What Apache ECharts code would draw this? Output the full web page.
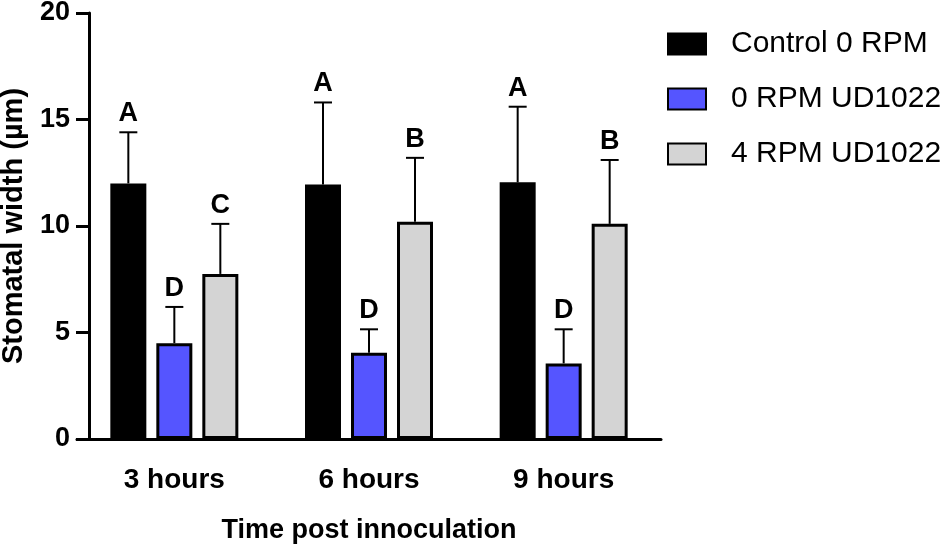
<!DOCTYPE html>
<html>
<head>
<meta charset="utf-8">
<script src="https://cdn.jsdelivr.net/npm/echarts@6/dist/echarts.min.js"></script>
<style>
  html, body { margin: 0; padding: 0; background: #fff; }
  #main { width: 943px; height: 548px; }
</style>
</head>
<body>
<div id="main"></div>
<script>
// data
var categories = ['3 hours', '6 hours', '9 hours'];
var seriesNames = ['Control 0 RPM', '0 RPM UD1022', '4 RPM UD1022'];
var controlMean = [12.0, 11.95, 12.05];
var controlTop = [14.4, 15.8, 15.6];
var rpm0Mean = [4.5, 4.05, 3.55];
var rpm0Top = [6.2, 5.15, 5.15];
var rpm4Mean = [7.75, 10.2, 10.1];
var rpm4Top = [10.1, 13.2, 13.1];
var controlLetters = ['A', 'A', 'A'];
var rpm0Letters = ['D', 'D', 'D'];
var rpm4Letters = ['C', 'B', 'B'];
var yTicks = [0, 5, 10, 15, 20];

var FONT = 'Liberation Sans';
var BAR_W = 36;
var BAR_GAP = 10;

var myChart = echarts.init(document.getElementById('main'));

function barSeries(name, color, values) {
  return {
    name: name,
    type: 'bar',
    barWidth: BAR_W,
    barGap: (BAR_GAP / BAR_W * 100) + '%',
    itemStyle: { color: color, borderColor: '#000', borderWidth: 3 },
    data: values
  };
}

// upper whisker + significance letter
function errorSeries(idx, means, tops, letters) {
  var offset = (BAR_W + BAR_GAP) * (idx - 1);
  return {
    type: 'custom',
    z: 5,
    encode: { x: 0, y: 2 },
    data: categories.map(function (c, i) { return [i, means[i], tops[i]]; }),
    renderItem: function (params, api) {
      var base = api.coord([api.value(0), api.value(1)]);
      var top = api.coord([api.value(0), api.value(2)]);
      var x = base[0] + offset;
      var cap = 9;
      return {
        type: 'group',
        children: [
          { type: 'line', shape: { x1: x, y1: base[1], x2: x, y2: top[1] },
            style: { stroke: '#000', lineWidth: 2 } },
          { type: 'line', shape: { x1: x - cap, y1: top[1], x2: x + cap, y2: top[1] },
            style: { stroke: '#000', lineWidth: 2 } },
          { type: 'text', x: x, y: top[1] - 5,
            style: { text: letters[params.dataIndex], fill: '#000', font: 'bold 27px "' + FONT + '"',
                     align: 'center', verticalAlign: 'bottom' } }
        ]
      };
    }
  };
}

myChart.setOption({
  animation: false,
  backgroundColor: '#fff',
  textStyle: { fontFamily: FONT },
  grid: { left: 77, right: 282, top: 13, bottom: 109, outerBoundsMode: 'none', containLabel: false },
  legend: {
    data: seriesNames,
    orient: 'vertical',
    left: 667,
    top: 29,
    padding: 0,
    itemWidth: 38,
    itemHeight: 21,
    itemGap: 25,
    icon: 'rect',
    textStyle: { fontFamily: FONT, fontSize: 30, color: '#000', padding: [0, 0, 0, 20], lineHeight: 30 }
  },
  xAxis: {
    type: 'category',
    data: categories,
    name: 'Time post innoculation',
    nameLocation: 'middle',
    nameGap: 78,
    nameTextStyle: { fontFamily: FONT, fontSize: 27, fontWeight: 'bold', color: '#000' },
    axisLine: { lineStyle: { color: '#000', width: 3 } },
    axisTick: { alignWithLabel: true, length: 17, lineStyle: { color: '#000', width: 3 } },
    axisLabel: { margin: 27, fontFamily: FONT, fontSize: 28, fontWeight: 'bold', color: '#000' }
  },
  yAxis: {
    type: 'value',
    min: yTicks[0],
    max: yTicks[yTicks.length - 1],
    interval: 5,
    offset: -12,
    name: 'Stomatal width (µm)',
    nameLocation: 'middle',
    nameGap: 61,
    nameTextStyle: { fontFamily: FONT, fontSize: 29, fontWeight: 'bold', color: '#000' },
    axisLine: { show: true, lineStyle: { color: '#000', width: 3 } },
    axisTick: { show: true, length: 13, lineStyle: { color: '#000', width: 3 } },
    axisLabel: { margin: 19, fontFamily: FONT, fontSize: 27, fontWeight: 'bold', color: '#000' },
    splitLine: { show: false }
  },
  series: [
    barSeries(seriesNames[0], '#000000', controlMean),
    barSeries(seriesNames[1], '#5555ff', rpm0Mean),
    barSeries(seriesNames[2], '#d4d4d4', rpm4Mean),
    errorSeries(0, controlMean, controlTop, controlLetters),
    errorSeries(1, rpm0Mean, rpm0Top, rpm0Letters),
    errorSeries(2, rpm4Mean, rpm4Top, rpm4Letters)
  ]
});
</script>
</body>
</html>
